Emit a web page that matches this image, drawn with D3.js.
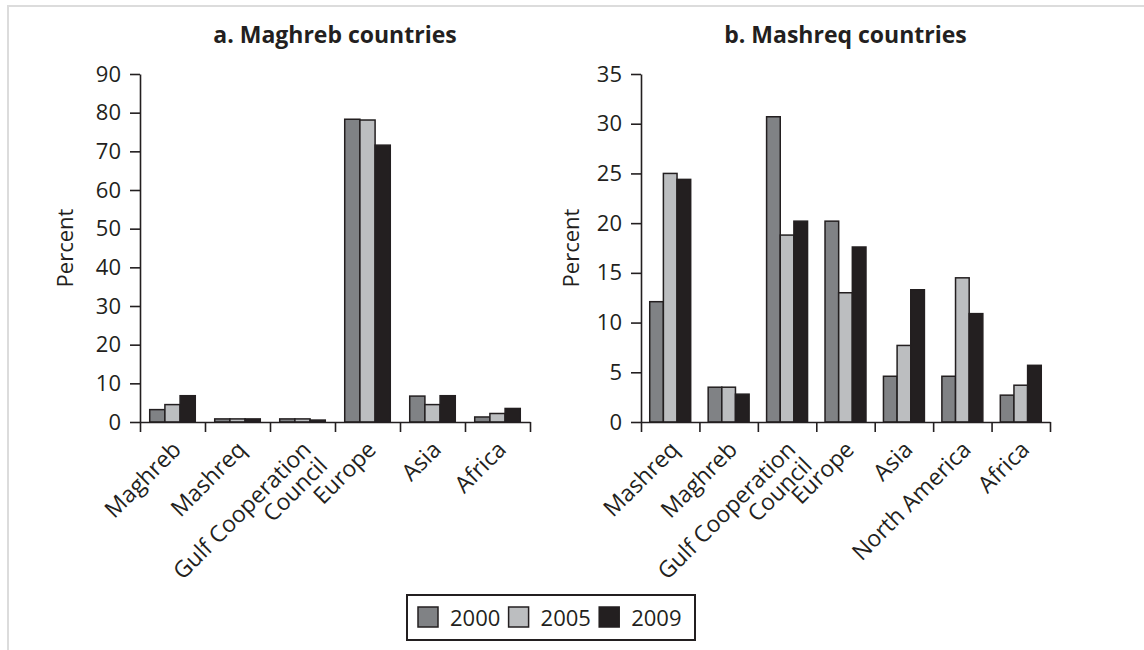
<!DOCTYPE html>
<html>
<head>
<meta charset="utf-8">
<script src="https://cdn.jsdelivr.net/npm/d3@7"></script>
<style>
    body { margin: 0; background: #fff; }
    text { font-family: "Open Sans", sans-serif; fill: #231f20; }
</style>
</head>
<body>
<script>
// series
const years = ['2000', '2005', '2009']
const yearColors = ['#808285', '#bcbec0', '#231f20']

// a. Maghreb countries
const maghrebRegions = ['Maghreb', 'Mashreq', 'Gulf Cooperation\nCouncil', 'Europe', 'Asia', 'Africa']
const maghreb2000 = [3.2, 0.8, 0.8, 78.3, 6.7, 1.3]
const maghreb2005 = [4.5, 0.8, 0.8, 78.1, 4.5, 2.2]
const maghreb2009 = [6.8, 0.8, 0.5, 71.6, 6.8, 3.5]
const maghrebTicks = [0, 10, 20, 30, 40, 50, 60, 70, 80, 90]

// b. Mashreq countries
const mashreqRegions = ['Mashreq', 'Maghreb', 'Gulf Cooperation\nCouncil', 'Europe', 'Asia', 'North America', 'Africa']
const mashreq2000 = [12.1, 3.5, 30.7, 20.2, 4.6, 4.6, 2.7]
const mashreq2005 = [25.0, 3.5, 18.8, 13.0, 7.7, 14.5, 3.7]
const mashreq2009 = [24.4, 2.8, 20.2, 17.6, 13.3, 10.9, 5.7]
const mashreqTicks = [0, 5, 10, 15, 20, 25, 30, 35]

const W = 1144, H = 650
const ink = '#231f20'

const svg = d3.select('body').append('svg')
    .attr('width', W)
    .attr('height', H)

// light page frame
svg.append('path')
    .attr('d', `M8,${H} V6 H${W}`)
    .attr('fill', 'none')
    .attr('stroke', '#dcdcdc')
    .attr('stroke-width', 2)

const plotTop = 74, base = 422

function panel(title, regions, series, ticks, x0, x1, labelX) {
    const g = svg.append('g')

    const x = d3.scaleBand()
        .domain(regions)
        .range([x0, x1])

    const inner = d3.scaleBand()
        .domain(years)
        .range([0, x.bandwidth()])
        .paddingOuter(0.64)

    const y = d3.scaleLinear()
        .domain([0, d3.max(ticks)])
        .range([base, plotTop])

    const rows = regions.map((r, i) => years.map((yr, j) => ({ region: r, year: yr, j, value: series[j][i] })))

    g.selectAll('.group')
        .data(rows)
        .enter().append('g')
        .attr('class', 'group')
        .attr('transform', d => `translate(${x(d[0].region)}, 0)`)
        .selectAll('rect')
        .data(d => d)
        .enter().append('rect')
        .attr('x', d => inner(d.year))
        .attr('y', d => y(d.value))
        .attr('width', inner.bandwidth())
        .attr('height', d => base - y(d.value))
        .style('fill', d => yearColors[d.j])
        .style('stroke', ink)
        .style('stroke-width', 1.5)

    // y axis
    const yAxis = g.append('g')
        .attr('transform', `translate(${x0}, 0)`)
        .call(d3.axisLeft(y).tickValues(ticks).tickSize(10).tickSizeOuter(0).tickPadding(9))
    yAxis.selectAll('text').style('font-size', '22px')

    // x axis: ticks on the band boundaries
    const edge = d3.scaleLinear().domain([0, regions.length]).range([x0, x1])
    g.append('g')
        .attr('transform', `translate(0, ${base})`)
        .call(d3.axisBottom(edge).tickValues(d3.range(regions.length + 1)).tickSize(10).tickSizeOuter(0).tickFormat(''))

    g.selectAll('.domain, .tick line')
        .attr('stroke', ink)
        .attr('stroke-width', 1.6)

    // category labels
    const lab = g.selectAll('.cat')
        .data(regions)
        .enter().append('text')
        .attr('class', 'cat')
        .attr('transform', d => `translate(${x(d) + x.bandwidth() / 2 + 10}, ${base + 29}) rotate(-45)`)
        .style('text-anchor', 'end')
        .style('font-size', '23px')
    lab.selectAll('tspan')
        .data(d => d.split('\n'))
        .enter().append('tspan')
        .attr('x', 0)
        .attr('dy', (d, i) => i ? '1.0em' : 0)
        .text(d => d)

    g.append('text')
        .attr('transform', `translate(${labelX}, ${(plotTop + base) / 2}) rotate(-90)`)
        .style('text-anchor', 'middle')
        .style('font-size', '22px')
        .text('Percent')

    g.append('text')
        .attr('x', (x0 + x1) / 2)
        .attr('y', 43)
        .style('text-anchor', 'middle')
        .style('font-size', '23px')
        .style('font-weight', 'bold')
        .text(title)
}

panel('a. Maghreb countries', maghrebRegions, [maghreb2000, maghreb2005, maghreb2009], maghrebTicks, 140, 530, 73)
panel('b. Mashreq countries', mashreqRegions, [mashreq2000, mashreq2005, mashreq2009], mashreqTicks, 641, 1050, 579)

// legend
const legend = svg.append('g')
legend.append('rect')
    .attr('x', 407)
    .attr('y', 595)
    .attr('width', 288)
    .attr('height', 45)
    .attr('fill', '#fff')
    .attr('stroke', ink)
    .attr('stroke-width', 2)

const item = legend.selectAll('.item')
    .data(years)
    .enter().append('g')
    .attr('class', 'item')
    .attr('transform', (d, i) => `translate(${418 + i * 90.6}, 607)`)
item.append('rect')
    .attr('width', 20)
    .attr('height', 20)
    .style('fill', (d, i) => yearColors[i])
    .style('stroke', ink)
    .style('stroke-width', 1.5)
item.append('text')
    .attr('x', 32)
    .attr('y', 18.5)
    .style('font-size', '22px')
    .text(d => d)
</script>
</body>
</html>
